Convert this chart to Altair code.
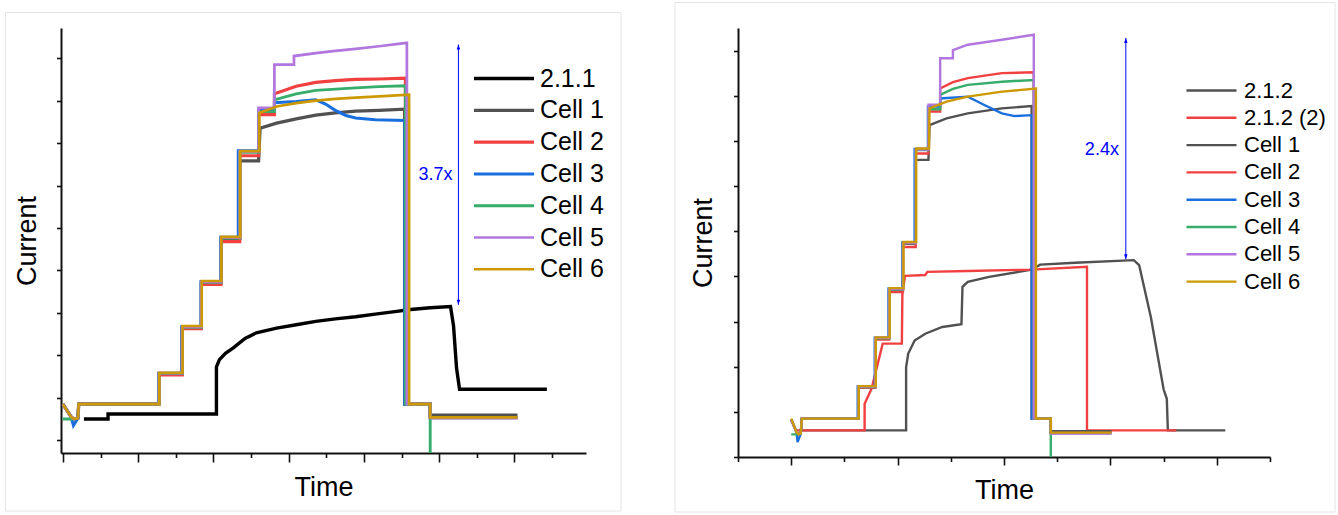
import altair as alt
import pandas as pd

FONT = "Liberation Sans"
BLUE = "#0000FF"

# ---------------- Left panel data (axis units) ----------------
L_series = ["2.1.1", "Cell 1", "Cell 2", "Cell 3", "Cell 4", "Cell 5", "Cell 6"]
L_colors = ["#000000", "#515151", "#F14040", "#1A6FDF", "#37AD6B", "#B177DE", "#CC9900"]
L_widths = [3.4, 2.6, 2.6, 2.6, 2.6, 2.6, 2.8]

L211_x = [0.28, 0.60, 0.60, 2.04, 2.04, 2.08, 2.16, 2.26, 2.42, 2.57, 2.84, 3.10, 3.36, 3.62, 3.89, 4.15, 4.41, 4.62, 4.88, 5.15, 5.19, 5.23, 5.27, 6.43]
L211_y = [0.00, 0.00, 0.12, 0.12, 1.23, 1.40, 1.55, 1.67, 1.90, 2.03, 2.14, 2.22, 2.30, 2.36, 2.41, 2.47, 2.53, 2.58, 2.62, 2.65, 2.20, 1.20, 0.70, 0.70]

Lc1_x = [0, 0.11, 0.15, 0.20, 0.21, 1.275, 1.275, 1.585, 1.585, 1.84, 1.84, 2.10, 2.10, 2.35, 2.35, 2.60, 2.62, 2.84, 3.10, 3.36, 3.62, 3.89, 4.20, 4.54, 4.54, 4.88, 4.88, 6.04]
Lc1_y = [0.35, 0.05, 0.00, 0.02, 0.35, 0.35, 1.06, 1.06, 2.15, 2.15, 3.20, 3.20, 4.25, 4.25, 6.08, 6.08, 6.85, 6.97, 7.07, 7.16, 7.21, 7.25, 7.27, 7.30, 0.35, 0.35, 0.09, 0.09]

Lc2_x = [0, 0.11, 0.15, 0.20, 0.21, 1.275, 1.275, 1.585, 1.585, 1.84, 1.84, 2.10, 2.10, 2.35, 2.35, 2.60, 2.60, 2.81, 2.81, 3.10, 3.36, 3.62, 3.89, 4.20, 4.55, 4.55, 4.88, 4.88, 6.04]
Lc2_y = [0.35, 0.05, 0.00, 0.02, 0.35, 0.35, 1.04, 1.04, 2.13, 2.13, 3.17, 3.17, 4.18, 4.18, 6.20, 6.20, 7.17, 7.17, 7.66, 7.84, 7.93, 7.97, 8.00, 8.01, 8.03, 0.35, 0.35, 0.03, 0.03]

Lc3_x = [0, 0.11, 0.14, 0.20, 0.21, 1.27, 1.27, 1.58, 1.58, 1.835, 1.835, 2.095, 2.095, 2.33, 2.33, 2.60, 2.60, 2.81, 2.81, 3.10, 3.36, 3.49, 3.62, 3.76, 3.89, 4.15, 4.54, 4.54, 4.88, 4.88, 6.04]
Lc3_y = [0.35, 0.05, -0.15, 0.02, 0.35, 0.35, 1.08, 1.08, 2.18, 2.18, 3.24, 3.24, 4.28, 4.28, 6.32, 6.32, 7.28, 7.28, 7.45, 7.48, 7.52, 7.42, 7.27, 7.15, 7.09, 7.05, 7.03, 0.35, 0.35, 0.03, 0.03]

Lc4_x = [0, 0.15, 0.20, 0.21, 1.275, 1.275, 1.585, 1.585, 1.84, 1.84, 2.10, 2.10, 2.35, 2.35, 2.60, 2.60, 2.81, 2.81, 3.10, 3.36, 3.89, 4.20, 4.55, 4.55, 4.88, 4.88]
Lc4_y = [0.00, 0.00, 0.02, 0.35, 0.35, 1.07, 1.07, 2.16, 2.16, 3.22, 3.22, 4.26, 4.26, 6.28, 6.28, 7.24, 7.24, 7.52, 7.66, 7.74, 7.80, 7.83, 7.85, 0.35, 0.35, -0.80]

Lc5_x = [0, 0.11, 0.15, 0.20, 0.21, 1.275, 1.275, 1.585, 1.585, 1.84, 1.84, 2.10, 2.10, 2.35, 2.35, 2.60, 2.60, 2.81, 2.81, 3.07, 3.07, 3.36, 3.62, 3.89, 4.20, 4.57, 4.57, 4.88, 4.88, 6.04]
Lc5_y = [0.35, 0.05, 0.00, 0.02, 0.35, 0.35, 1.08, 1.08, 2.17, 2.17, 3.23, 3.23, 4.27, 4.27, 6.30, 6.30, 7.33, 7.33, 8.35, 8.35, 8.55, 8.62, 8.67, 8.72, 8.78, 8.86, 0.35, 0.35, 0.03, 0.03]

Lc6_x = [0, 0.11, 0.15, 0.20, 0.21, 1.28, 1.28, 1.59, 1.59, 1.845, 1.845, 2.105, 2.105, 2.355, 2.355, 2.61, 2.61, 2.84, 3.10, 3.36, 3.62, 3.89, 4.20, 4.60, 4.60, 4.88, 4.88, 6.04]
Lc6_y = [0.35, 0.05, 0.00, 0.02, 0.35, 0.35, 1.09, 1.09, 2.19, 2.19, 3.25, 3.25, 4.29, 4.29, 6.31, 6.31, 7.21, 7.36, 7.44, 7.50, 7.54, 7.57, 7.60, 7.64, 0.35, 0.35, 0.04, 0.04]

L_xticks = [0, 0.5, 1, 1.5, 2, 2.5, 3, 3.5, 4, 4.5, 5, 5.5, 6, 6.5]
L_yticks = [-0.5, 0, 0.5, 1, 1.5, 2, 2.5, 3, 3.5, 4, 4.5, 5, 5.5, 6, 6.5, 7, 7.5, 8, 8.5, 9]
L_xdomain = [-0.025, 6.95]
L_ydomain = [-0.80, 9.21]

L_arrow_x = [5.255]
L_arrow_top = [8.82]
L_arrow_bottom = [2.69]
L_label = ["3.7x"]
L_label_x = [4.95]
L_label_y = [5.75]

# ---------------- Right panel data (axis units) ----------------
R_series = ["2.1.2", "2.1.2 (2)", "Cell 1", "Cell 2", "Cell 3", "Cell 4", "Cell 5", "Cell 6"]
R_colors = ["#515151", "#F14040", "#515151", "#F14040", "#1A6FDF", "#37AD6B", "#B177DE", "#CC9900"]
R_widths = [2.4, 2.4, 2.2, 2.2, 2.2, 2.2, 2.2, 2.4]

R212_x = [0.10, 1.08, 1.08, 1.10, 1.16, 1.26, 1.42, 1.60, 1.61, 1.66, 1.86, 2.26, 2.34, 2.67, 3.22, 3.27, 3.38, 3.50, 3.53, 3.54, 4.08]
R212_y = [0.09, 0.09, 1.49, 1.79, 2.08, 2.23, 2.38, 2.44, 3.27, 3.38, 3.49, 3.65, 3.76, 3.80, 3.86, 3.75, 2.60, 1.00, 0.79, 0.09, 0.09]

R2122_x = [0.05, 0.69, 0.69, 0.755, 0.86, 1.04, 1.045, 1.07, 1.26, 1.28, 1.66, 2.26, 2.78, 2.78, 3.62]
R2122_y = [0.09, 0.09, 0.68, 1.01, 2.01, 2.01, 3.12, 3.51, 3.53, 3.60, 3.62, 3.65, 3.71, 0.09, 0.09]

Rc1_x = [0, 0.05, 0.07, 0.09, 0.10, 0.633, 0.633, 0.79, 0.79, 0.92, 0.92, 1.05, 1.05, 1.17, 1.17, 1.29, 1.30, 1.46, 1.66, 1.98, 2.26, 2.26, 2.44, 2.44, 3.01]
Rc1_y = [0.33, 0.05, 0.00, 0.02, 0.35, 0.35, 1.04, 1.04, 2.12, 2.12, 3.20, 3.20, 4.22, 4.22, 6.08, 6.08, 6.85, 7.00, 7.11, 7.22, 7.27, 0.35, 0.35, 0.07, 0.07]

Rc2_x = [0, 0.05, 0.07, 0.09, 0.10, 0.633, 0.633, 0.79, 0.79, 0.92, 0.92, 1.05, 1.05, 1.17, 1.17, 1.29, 1.29, 1.40, 1.40, 1.52, 1.66, 1.98, 2.28, 2.28, 2.44, 2.44, 3.01]
Rc2_y = [0.33, 0.05, 0.00, 0.02, 0.35, 0.35, 1.04, 1.04, 2.10, 2.10, 3.15, 3.15, 4.15, 4.15, 6.22, 6.22, 7.15, 7.15, 7.66, 7.80, 7.89, 8.00, 8.02, 0.35, 0.35, 0.03, 0.03]

Rc3_x = [0, 0.05, 0.06, 0.09, 0.10, 0.625, 0.625, 0.785, 0.785, 0.915, 0.915, 1.045, 1.045, 1.16, 1.16, 1.285, 1.285, 1.40, 1.40, 1.66, 1.82, 1.98, 2.10, 2.26, 2.26, 2.44, 2.44, 3.01]
Rc3_y = [0.33, 0.05, -0.17, 0.02, 0.35, 0.35, 1.06, 1.06, 2.14, 2.14, 3.23, 3.23, 4.25, 4.25, 6.32, 6.32, 7.26, 7.26, 7.44, 7.48, 7.29, 7.11, 7.05, 7.07, 0.35, 0.35, 0.03, 0.03]

Rc4_x = [0, 0.07, 0.09, 0.10, 0.633, 0.633, 0.79, 0.79, 0.92, 0.92, 1.05, 1.05, 1.17, 1.17, 1.29, 1.29, 1.40, 1.40, 1.52, 1.66, 1.98, 2.28, 2.28, 2.44, 2.44]
Rc4_y = [0.00, 0.00, 0.02, 0.35, 0.35, 1.05, 1.05, 2.13, 2.13, 3.21, 3.21, 4.24, 4.24, 6.30, 6.30, 7.20, 7.20, 7.52, 7.65, 7.74, 7.81, 7.85, 0.35, 0.35, -0.50]

Rc5_x = [0, 0.05, 0.07, 0.09, 0.10, 0.633, 0.633, 0.79, 0.79, 0.92, 0.92, 1.05, 1.05, 1.17, 1.17, 1.29, 1.29, 1.40, 1.40, 1.52, 1.52, 1.66, 1.98, 2.28, 2.28, 2.44, 2.44, 3.01]
Rc5_y = [0.33, 0.05, 0.00, 0.02, 0.35, 0.35, 1.06, 1.06, 2.14, 2.14, 3.22, 3.22, 4.24, 4.24, 6.31, 6.31, 7.30, 7.30, 8.33, 8.33, 8.51, 8.63, 8.74, 8.85, 0.35, 0.35, 0.02, 0.02]

Rc6_x = [0, 0.05, 0.07, 0.09, 0.10, 0.635, 0.635, 0.795, 0.795, 0.925, 0.925, 1.055, 1.055, 1.175, 1.175, 1.295, 1.30, 1.46, 1.66, 1.98, 2.30, 2.30, 2.44, 2.44, 3.01]
Rc6_y = [0.35, 0.05, 0.00, 0.02, 0.35, 0.35, 1.07, 1.07, 2.15, 2.15, 3.24, 3.24, 4.26, 4.26, 6.33, 6.33, 7.22, 7.37, 7.48, 7.59, 7.66, 0.35, 0.35, 0.04, 0.04]

R_xticks = [-0.5, 0, 0.5, 1, 1.5, 2, 2.5, 3, 3.5, 4, 4.5]
R_yticks = [-0.5, 0, 0.5, 1, 1.5, 2, 2.5, 3, 3.5, 4, 4.5, 5, 5.5, 6, 6.5, 7, 7.5, 8, 8.5, 9]
R_xdomain = [-0.5, 4.5]
R_ydomain = [-0.5, 9.0]

R_arrow_x = [3.145]
R_arrow_top = [8.78]
R_arrow_bottom = [3.88]
R_label = ["2.4x"]
R_label_x = [2.92]
R_label_y = [6.30]


def frame_long(names, xs_list, ys_list):
    rows = []
    for name, xs, ys in zip(names, xs_list, ys_list):
        for i, (xv, yv) in enumerate(zip(xs, ys)):
            rows.append({"series": name, "x": xv, "y": yv, "i": i})
    return pd.DataFrame(rows)


def tick_size(major, minor):
    return {"condition": {"test": "datum.value % 1 === 0", "value": major}, "value": minor}


def panel(df, names, colors, widths, xdom, ydom, xticks, yticks, w, h,
          ann, legend_kw, box, ytp, xtp, major_tick):
    xs = alt.Scale(domain=xdom, nice=False, zero=False)
    ys = alt.Scale(domain=ydom, nice=False, zero=False)
    x_axis = alt.Axis(values=xticks, labels=False, grid=False, domainColor="#111111",
                      domainWidth=2, tickColor="#111111", tickWidth=1.6,
                      tickSize=tick_size(major_tick, 4.5), title="Time", titleFont=FONT,
                      titleFontSize=27, titleFontWeight="normal", titleColor="black",
                      titlePadding=xtp)
    y_axis = alt.Axis(values=yticks, labels=False, grid=False, domainColor="#111111",
                      domainWidth=2, tickColor="#111111", tickWidth=1.6,
                      tickSize=tick_size(major_tick, 4.5), title="Current", titleFont=FONT,
                      titleFontSize=27, titleFontWeight="normal", titleColor="black",
                      titlePadding=ytp)

    frame = alt.Chart(pd.DataFrame({"k": [0]})).mark_rect(
        fill=None, stroke="#e4e4e4", strokeWidth=1
    ).encode(x=alt.value(box[0]), x2=alt.value(box[1]), y=alt.value(box[2]), y2=alt.value(box[3]))

    lines = alt.Chart(df).mark_line(strokeCap="butt", strokeJoin="miter").encode(
        x=alt.X("x:Q", scale=xs, axis=x_axis),
        y=alt.Y("y:Q", scale=ys, axis=y_axis),
        color=alt.Color("series:N", sort=names,
                        scale=alt.Scale(domain=names, range=colors),
                        legend=alt.Legend(**legend_kw)),
        strokeWidth=alt.StrokeWidth("series:N", scale=alt.Scale(domain=names, range=widths), legend=None),
        detail="series:N",
        order=alt.Order("i:Q"),
    )

    ann_df = pd.DataFrame(ann)
    rule = alt.Chart(ann_df).mark_rule(color=BLUE, strokeWidth=1).encode(
        x="ax:Q", y="atop:Q", y2="abot:Q")
    head_up = alt.Chart(ann_df).mark_point(
        shape="M0,0L-0.35,1L0.35,1Z", filled=True, color=BLUE, opacity=1, size=100, strokeWidth=0
    ).encode(x="ax:Q", y="atop:Q")
    head_dn = alt.Chart(ann_df).mark_point(
        shape="M0,0L-0.35,-1L0.35,-1Z", filled=True, color=BLUE, opacity=1, size=100, strokeWidth=0
    ).encode(x="ax:Q", y="abot:Q")
    txt = alt.Chart(ann_df).mark_text(
        font=FONT, fontSize=18, color=BLUE, align="center", baseline="middle"
    ).encode(x="tx:Q", y="ty:Q", text="label:N")

    return alt.layer(frame, lines, rule, head_up, head_dn, txt).properties(width=w, height=h)


L_df = frame_long(L_series, [L211_x, Lc1_x, Lc2_x, Lc3_x, Lc4_x, Lc5_x, Lc6_x],
                  [L211_y, Lc1_y, Lc2_y, Lc3_y, Lc4_y, Lc5_y, Lc6_y])
R_df = frame_long(R_series, [R212_x, R2122_x, Rc1_x, Rc2_x, Rc3_x, Rc4_x, Rc5_x, Rc6_x],
                  [R212_y, R2122_y, Rc1_y, Rc2_y, Rc3_y, Rc4_y, Rc5_y, Rc6_y])

left = panel(
    L_df, L_series, L_colors, L_widths, L_xdomain, L_ydomain, L_xticks, L_yticks, 525, 425,
    {"ax": L_arrow_x, "atop": L_arrow_top, "abot": L_arrow_bottom, "label": L_label,
     "tx": L_label_x, "ty": L_label_y},
    dict(orient="none", legendX=411, legendY=35, title=None, symbolType="stroke",
         symbolSize=3600, symbolStrokeWidth=3, labelFontSize=25, labelFont=FONT,
         labelColor="black", clipHeight=31, rowPadding=0.8, labelOffset=4, padding=0,
         labelLimit=400),
    (-55.5, 560, -15.5, 483), 14.5, 12, 9,
)

right = panel(
    R_df, R_series, R_colors, R_widths, R_xdomain, R_ydomain, R_xticks, R_yticks, 532, 429,
    {"ax": R_arrow_x, "atop": R_arrow_top, "abot": R_arrow_bottom, "label": R_label,
     "tx": R_label_x, "ty": R_label_y},
    dict(orient="none", legendX=447, legendY=49, title=None, symbolType="stroke",
         symbolSize=2500, symbolStrokeWidth=2.5, labelFontSize=22, labelFont=FONT,
         labelColor="black", clipHeight=27, rowPadding=0.3, labelOffset=6, padding=0,
         labelLimit=400),
    (-63, 597, -25.5, 484), 15.5, 12, 8,
)

chart = alt.hconcat(left, right, spacing=152, bounds="flush").resolve_scale(
    color="independent", strokeWidth="independent", x="independent", y="independent"
).properties(
    padding={"left": 5, "top": 2, "right": 0, "bottom": 0},
    background="white",
).configure_view(stroke=None)

chart.save("out.html", embed_options={"renderer": "svg", "actions": False})
